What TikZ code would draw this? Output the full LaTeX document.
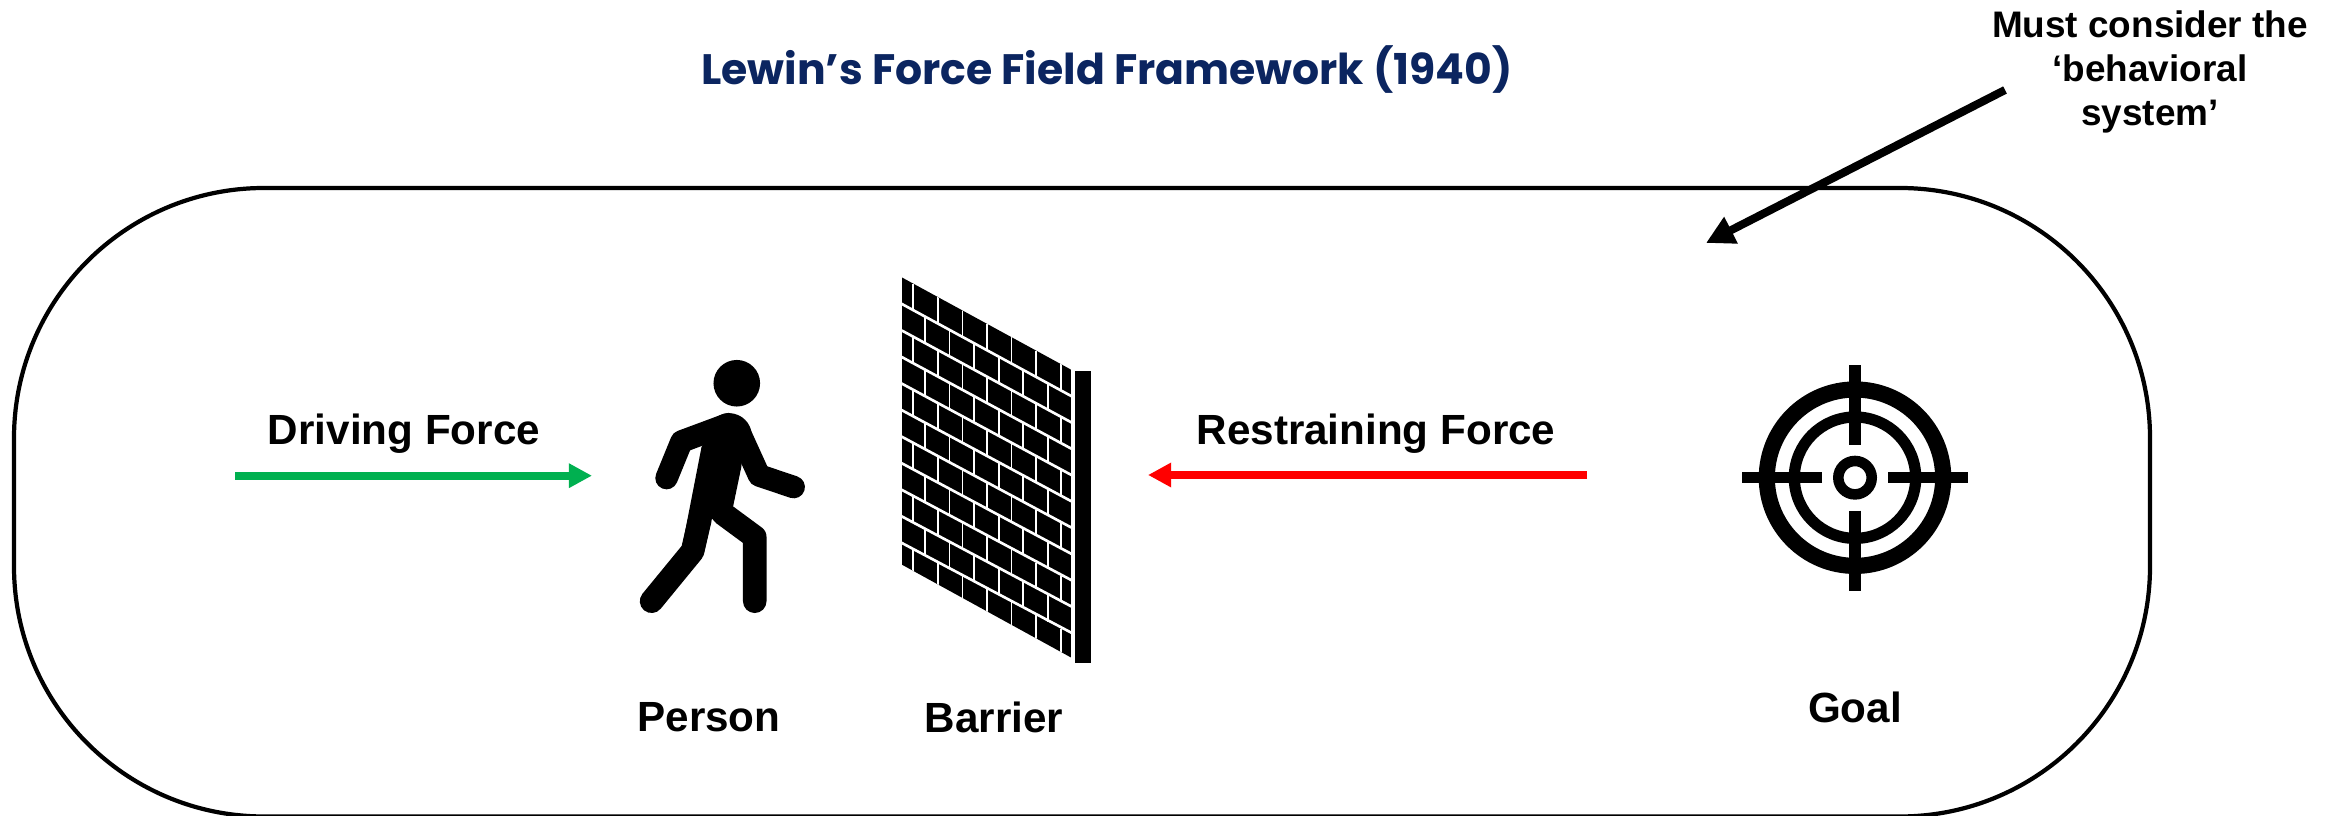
\documentclass[tikz,border=0pt]{standalone}
\usepackage{fontspec}
\usetikzlibrary{arrows.meta}
\setmainfont{Liberation Sans}
\newfontfamily\titlefont{Poppins}
\definecolor{titleblue}{HTML}{0B2560}
\definecolor{drivegreen}{HTML}{00B050}
\tikzset{
    forcelabel/.style={font=\fontsize{12}{14}\selectfont\bfseries},
    notelabel/.style={font=\fontsize{10.5}{12.6}\selectfont\bfseries,align=center},
    forcearrow/.style={line width=2.3pt,-{Triangle[length=6.6pt,width=6.6pt]}},
    limb/.style={line width=6.7pt,line cap=round,line join=round},
    mortar/.style={white,line width=0.75pt},
    joint/.style={white,line width=0.5pt}
}
\begin{document}
\begin{tikzpicture}[x=0.01cm,y=-0.01cm]
    \useasboundingbox (0,0) rectangle (2330,816);
    % field
    \draw[line width=1.2pt,rounded corners=2.5cm] (14,188) rectangle (2150,816.5);
    % labels
    \node (title) at (1107,70) {\titlefont\fontsize{12.1}{15}\selectfont\bfseries\textcolor{titleblue}{Lewin’s Force Field Framework (1940)}};
    \foreach \Name/\PointX/\PointY/\Label in {driving/404/434/Driving Force, restraining/1376/434/Restraining Force, person/709/717/Person, barrier/994/717/Barrier, goal/1855/707/Goal}
    \node[forcelabel] (\Name) at (\PointX,\PointY) {\Label};
    \node[notelabel] (note) at (2150,72) {Must consider the\\‘behavioral\\system’};
    % arrows
    \coordinate (driveStart) at (235,475.7);
    \coordinate (driveEnd) at (592,475.7);
    \coordinate (restrainStart) at (1587,475);
    \coordinate (restrainEnd) at (1148,475);
    \coordinate (noteStart) at (2005,90);
    \coordinate (noteEnd) at (1706,243);
    \draw[forcearrow,drivegreen] (driveStart) -- (driveEnd);
    \draw[forcearrow,red] (restrainStart) -- (restrainEnd);
    \draw[line width=2.3pt,-{Triangle[length=8pt,width=8pt]}] (noteStart) -- (noteEnd);
    % walking figure
    \begin{scope}[shift={(600,330)},x=0.003333cm,y=-0.003333cm]
        \fill (411,160) circle (70);
        \fill (388,318) circle (68);
        \fill (305,352) -- (340,290) -- (430,290) -- (425,410) -- (400,530) -- (335,570) -- (310,680) -- (247,650) -- cycle;
        \draw[limb,line width=6.4pt] (200,445) -- (245,335) -- (385,283);
        \draw[limb,line width=6.4pt] (582,472) -- (478,437) -- (418,305);
        \draw[limb] (155,815) -- (278,665) -- (300,570);
        \draw[limb] (465,815) -- (465,622) -- (370,552);
    \end{scope}
    % brick wall
    \fill (1075,371) rectangle (1091,663);
    \begin{scope}[shift={(880,260)},x=0.003333cm,y=-0.003333cm]
        \clip (65,52) -- (575,330) -- (575,1195) -- (65,915) -- cycle;
        \fill (65,52) rectangle (575,1195);
        \foreach \Course in {1,...,10}
        \draw[mortar] (65,{52+79.8*\Course}) -- (575,{330+79*\Course});
        \foreach \Course/\First in {0/100,1/135,2/100,3/135,4/100,5/135,6/100,7/135,8/100,9/135,10/100}
        \foreach \Joint in {0,...,6}
        \draw[joint] ({\First+73.8*\Joint},{52+79.6*\Course+0.545*(\First+73.8*\Joint-65)}) -- ++(0,79.6);
    \end{scope}
    % target
    \coordinate (target) at (1855,477.7);
    \draw[line width=4.6pt] (target) circle (88.2);
    \draw[line width=3.2pt] (target) circle (60.7);
    \draw[line width=3pt] (target) circle (16.7);
    \foreach \Dir in {0,90,180,270}
    \draw[line width=3.2pt] (target) ++(\Dir:33) -- ++(\Dir:80);
\end{tikzpicture}
\end{document}
